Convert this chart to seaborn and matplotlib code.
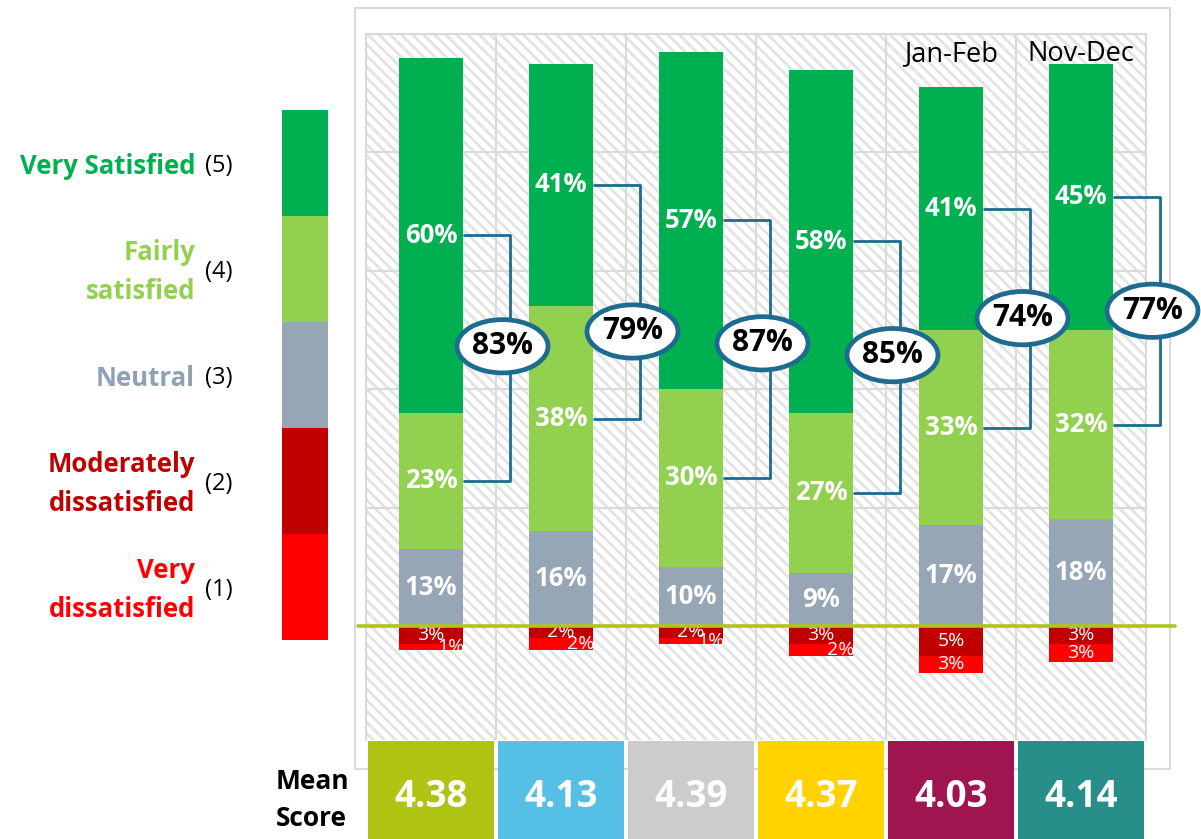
import numpy as np
import pandas as pd
import seaborn as sns
import matplotlib.pyplot as plt
from matplotlib.patches import Ellipse, Rectangle

sns.set_style('white')
plt.rcParams['font.family'] = ['Open Sans', 'DejaVu Sans']
plt.rcParams['hatch.linewidth'] = 2.0

# data
periods = ['P1', 'P2', 'P3', 'P4', 'Jan-Feb', 'Nov-Dec']
headers = ['', '', '', '', 'Jan-Feb', 'Nov-Dec']
very_sat = [60, 41, 57, 58, 41, 45]
fairly_sat = [23, 38, 30, 27, 33, 32]
neutral = [13, 16, 10, 9, 17, 18]
mod_dis = [3, 2, 2, 3, 5, 3]
very_dis = [1, 2, 1, 2, 3, 3]
top_two = [83, 79, 87, 85, 74, 77]
mean_score = [4.38, 4.13, 4.39, 4.37, 4.03, 4.14]

scale_names = ['Very Satisfied', 'Fairly\nsatisfied', 'Neutral', 'Moderately\ndissatisfied', 'Very\ndissatisfied']
scale_codes = ['(5)', '(4)', '(3)', '(2)', '(1)']

c_vs, c_fs, c_n, c_md, c_vd = '#00B050', '#92D050', '#97A6B5', '#C00000', '#FF0000'
seg_colors = [c_vs, c_fs, c_n, c_md, c_vd]
name_colors = [c_vs, c_fs, '#8EA1B6', c_md, c_vd]
mean_colors = ['#AFC313', '#55BFE6', '#CDCBCC', '#FFD200', '#A0154F', '#288E8A']
ring = '#1D6B8E'
grid_c = '#DADADA'
badge_nudge = [2, -5, 1, 2, 0, 0]

df = pd.DataFrame({'period': periods, 'vs': very_sat, 'fs': fairly_sat, 'n': neutral,
                   'md': mod_dis, 'vd': very_dis})
df['cum_n'] = df['n']
df['cum_fs'] = df['n'] + df['fs']
df['cum_vs'] = df['n'] + df['fs'] + df['vs']
df['cum_md'] = -df['md']
df['cum_vd'] = -(df['md'] + df['vd'])

W, H = 1201, 839
fig = plt.figure(figsize=(W / 100, H / 100), dpi=100)

# outer frame
fig.add_artist(Rectangle((355 / W, 1 - 769 / H), 815 / W, 761 / H, transform=fig.transFigure,
                         fill=False, edgecolor=grid_c, linewidth=1.5, zorder=0))

ax = fig.add_axes([366 / W, 1 - 740 / H, 780 / W, 706 / H])
ax.add_patch(Rectangle((0, 0), 1, 1, transform=ax.transAxes, facecolor='white',
                       edgecolor='#E3E3E3', hatch='\\\\\\', linewidth=0, zorder=0))

bar_kw = dict(order=periods, width=0.49, saturation=1, linewidth=0, errorbar=None, ax=ax, zorder=2)
sns.barplot(data=df, x='period', y='cum_vs', color=c_vs, **bar_kw)
sns.barplot(data=df, x='period', y='cum_fs', color=c_fs, **bar_kw)
sns.barplot(data=df, x='period', y='cum_n', color=c_n, **bar_kw)
sns.barplot(data=df, x='period', y='cum_vd', color=c_vd, **bar_kw)
vd_bars = list(ax.containers[-1])
sns.barplot(data=df, x='period', y='cum_md', color=c_md, **bar_kw)

ax.set_xlim(-0.5, 5.5)
ax.set_ylim(-19.26, 100)
ax.set_xticks(np.arange(-0.5, 6, 1))
ax.set_yticks([0, 20, 40, 60, 80, 100])
ax.set_axisbelow(True)
ax.grid(True, color=grid_c, linewidth=1.5)
ax.tick_params(length=0, labelleft=False, labelbottom=False)
ax.set_xlabel('')
ax.set_ylabel('')
for s in ax.spines.values():
    s.set_color(grid_c)
    s.set_linewidth(1.5)
ax.spines['bottom'].set_visible(False)

ax.axhline(0, xmin=-0.0103, xmax=1.037, color='#AFC51B', linewidth=2.6, clip_on=False, zorder=6)

big = dict(color='white', fontweight='bold', fontsize=18.5, ha='center', va='center', zorder=5)
small = dict(color='white', fontsize=14, ha='center', va='center', zorder=5)
for i, row in df.iterrows():
    y_n = row['n'] / 2
    y_fs = row['n'] + row['fs'] / 2
    y_vs = row['n'] + row['fs'] + row['vs'] / 2
    ax.text(i, y_n, f"{row['n']}%", **big)
    ax.text(i, y_fs, f"{row['fs']}%", **big)
    ax.text(i, y_vs, f"{row['vs']}%", **big)
    ax.text(i, -row['md'] / 2, f"{row['md']}%", **small)
    dx = 0.155 if row['vd'] < 3 else 0
    t = ax.text(i + dx, -row['md'] - row['vd'] / 2, f"{row['vd']}%", **small)
    t.set_clip_path(vd_bars[i])

    # top-two bracket and badge
    x0, x1 = i + 0.255, i + 0.61
    ax.plot([x0, x1, x1, x0], [y_vs, y_vs, y_fs, y_fs], color=ring, linewidth=2,
            clip_on=False, zorder=4)
    yc = (y_vs + y_fs) / 2 + badge_nudge[i]
    ax.add_patch(Ellipse((i + 0.55, yc), 0.70, 9.0, facecolor='white', edgecolor=ring,
                         linewidth=3.4, clip_on=False, zorder=7))
    ax.text(i + 0.55, yc, f'{top_two[i]}%', color='black', fontweight='bold', fontsize=21.5,
            ha='center', va='center', zorder=8, clip_on=False)
    if headers[i]:
        ax.text(i, 96.6, headers[i], color='black', fontsize=19.5, ha='center', va='center', zorder=5)

# mean score boxes
axm = fig.add_axes([366 / W, 0, 780 / W, 98 / H])
mdf = pd.DataFrame({'period': periods, 'box': np.ones(len(periods)), 'mean': mean_score})
sns.barplot(data=mdf, x='period', y='box', hue='period', palette=mean_colors, order=periods,
            width=0.975, saturation=1, linewidth=0, errorbar=None, legend=False, ax=axm)
axm.set_xlim(-0.5, 5.5)
axm.set_ylim(0, 1)
axm.axis('off')
for i, v in enumerate(mean_score):
    axm.text(i, 0.43, f'{v:.2f}', color='white', fontweight='bold', fontsize=26.5,
             ha='center', va='center')
fig.text(276 / W, 1 - 800 / H, 'Mean\nScore', color='black', fontweight='bold', fontsize=19,
         ha='left', va='center', linespacing=1.45)

# scale legend on the left
axl = fig.add_axes([282 / W, 1 - 640 / H, 46 / W, 530 / H])
for k, col in enumerate(seg_colors):
    sns.barplot(x=[0], y=[5 - k], color=col, width=1, saturation=1, linewidth=0,
                errorbar=None, ax=axl)
axl.set_xlim(-0.5, 0.5)
axl.set_ylim(0, 5)
axl.axis('off')
for k in range(5):
    yc = 1 - (110 + 106 * k + 56) / H
    fig.text(195 / W, yc, scale_names[k], color=name_colors[k], fontweight='bold', fontsize=18.5,
             ha='right', va='center', linespacing=1.55)
    fig.text(205 / W, yc, scale_codes[k], color='black', fontsize=17, ha='left', va='center')

fig.savefig('out.png', dpi=100)
